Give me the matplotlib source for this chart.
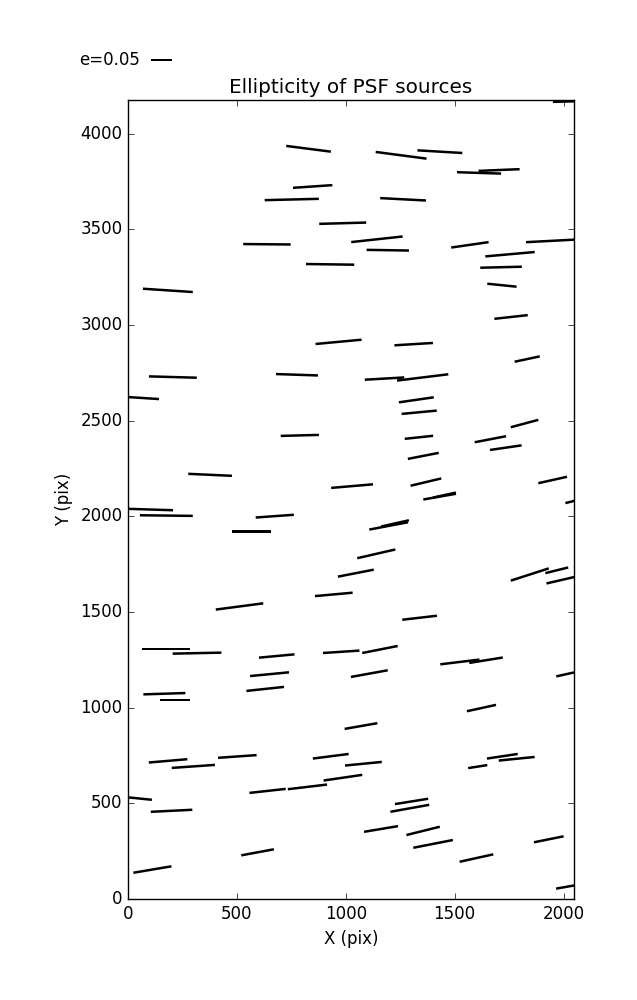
import numpy as np
import matplotlib
matplotlib.use("Agg")
import matplotlib.pyplot as plt

plt.style.use("classic")

# PSF source positions (pix), ellipticity and position angle (deg, on screen)
x_pos = [829, 1254, 1432, 848, 1612, 1704, 752, 1263, 986, 638,
         1143, 1193, 1570, 1947, 928, 1754, 1713, 183, 1717, 2011,
         967, 206, 776, 46, 789, 377, 1029, 1759, 1312, 1833,
         1178, 1353, 1324, 1337, 1821, 1336, 1664, 1735, 1356, 1950,
         1368, 1431, 1453, 2057, 92, 176, 674, 568, 1046, 945,
         512, 174, 317, 683, 979, 650, 1108, 630, 167, 216,
         1197, 1226, 1140, 1845, 1969, 1993, 1339, 1157, 1524, 1644,
         2020, 1070, 184, 300, 502, 931, 1081, 37, 641, 824,
         987, 200, 595, 112, 1623, 1606, 1719, 1785, 1302, 1294,
         1162, 1355, 1401, 1932, 1600, 2020]
y_pos = [3921, 3887, 3906, 3724, 3795, 3810, 3656, 3657, 3532, 3422,
         3448, 3391, 3419, 3440, 3317, 3370, 3302, 3181, 3208, 4168,
         2912, 2728, 2740, 2620, 2423, 2217, 2158, 3042, 2900, 2822,
         2720, 2726, 2609, 2544, 2485, 2413, 2403, 2359, 2316, 2190,
         2179, 2103, 2111, 2083, 2036, 2004, 2001, 1922, 1703, 1592,
         1529, 1307, 1285, 1270, 1292, 1175, 1178, 1098, 1073, 1039,
         1950, 1963, 1804, 1696, 1718, 1668, 1470, 1304, 1239, 1248,
         1177, 904, 722, 693, 745, 746, 707, 527, 565, 586,
         634, 461, 244, 154, 998, 692, 746, 733, 510, 474,
         366, 356, 288, 312, 214, 65]
ellip = [0.107, 0.122, 0.107, 0.094, 0.105, 0.098, 0.129, 0.109, 0.112, 0.113,
         0.123, 0.101, 0.090, 0.124, 0.115, 0.118, 0.099, 0.119, 0.070, 0.062,
         0.110, 0.114, 0.100, 0.100, 0.091, 0.104, 0.100, 0.080, 0.092, 0.061,
         0.094, 0.123, 0.084, 0.084, 0.068, 0.068, 0.076, 0.076, 0.075, 0.070,
         0.075, 0.079, 0.056, 0.052, 0.119, 0.126, 0.091, 0.092, 0.087, 0.090,
         0.114, 0.114, 0.116, 0.085, 0.087, 0.093, 0.089, 0.090, 0.100, 0.070,
         0.094, 0.068, 0.093, 0.095, 0.056, 0.076, 0.083, 0.086, 0.094, 0.081,
         0.057, 0.079, 0.092, 0.103, 0.092, 0.086, 0.088, 0.076, 0.087, 0.094,
         0.093, 0.099, 0.079, 0.092, 0.071, 0.046, 0.074, 0.086, 0.080, 0.094,
         0.082, 0.082, 0.096, 0.072, 0.082, 0.057]
angle_deg = [-7.3, -7.5, -3.4, 3.9, -1.8, 2.4, 1.4, -3.0, 1.6, -0.5,
             6.2, -0.9, 8.2, 3.0, -0.8, 5.1, 1.4, -3.8, -5.8, 1.5,
             5.3, -1.6, -1.9, -3.7, 1.5, -2.6, 4.9, 6.3, 3.5, 12.0,
             3.3, 7.0, 8.2, 5.4, 15.0, 6.1, 10.9, 8.3, 11.0, 12.6,
             13.4, 9.9, 12.3, 14.0, -1.8, -0.7, 4.1, 0.0, 11.0, 5.2,
             7.5, 0.0, 1.2, 5.3, 3.8, 5.5, 10.3, 6.1, 1.8, 0.0,
             10.7, 12.7, 12.9, 17.9, 13.9, 13.0, 6.6, 11.2, 6.9, 9.2,
             12.5, 9.9, 4.9, 4.0, 4.0, 7.3, 5.6, -5.8, 6.3, 6.8,
             8.3, 2.8, 10.5, 9.6, 12.3, 9.0, 8.5, 5.7, 9.1, 10.2,
             9.5, 14.0, 11.1, 11.4, 12.4, 10.0]

key_e = 0.05
x_max, y_max = 2048, 4176

x_arr = np.array(x_pos, float)
y_arr = np.array(y_pos, float)
e_arr = np.array(ellip, float)
t_arr = np.radians(np.array(angle_deg, float))
u = e_arr * np.cos(t_arr)
v = e_arr * np.sin(t_arr)

fig = plt.figure(figsize=(6.37, 10.0), dpi=100, facecolor="white")
ax = fig.add_axes([128 / 637, 0.101, 446 / 637, 0.799])
ax.set_facecolor("white")

q = ax.quiver(x_arr, y_arr, u, v, angles="uv", pivot="middle",
              scale_units="inches", scale=key_e / 0.21,
              units="dots", width=2.5,
              headwidth=0, headlength=0, headaxislength=0, color="black")
ax.quiverkey(q, 150.5 / 637, 0.94, key_e, "e=0.05", labelpos="W",
             coordinates="figure", fontproperties={"size": 12})

ax.set_xlim(0, x_max)
ax.set_ylim(0, y_max)
ax.set_xticks([0, 500, 1000, 1500, 2000])
ax.set_yticks([0, 500, 1000, 1500, 2000, 2500, 3000, 3500, 4000])
ax.set_xlabel("X (pix)", fontsize=12)
ax.set_ylabel("Y (pix)", fontsize=12)
ax.set_title("Ellipticity of PSF sources", fontsize=14.4)
ax.tick_params(labelsize=12)

fig.savefig("out.png", dpi=100, facecolor="white")
